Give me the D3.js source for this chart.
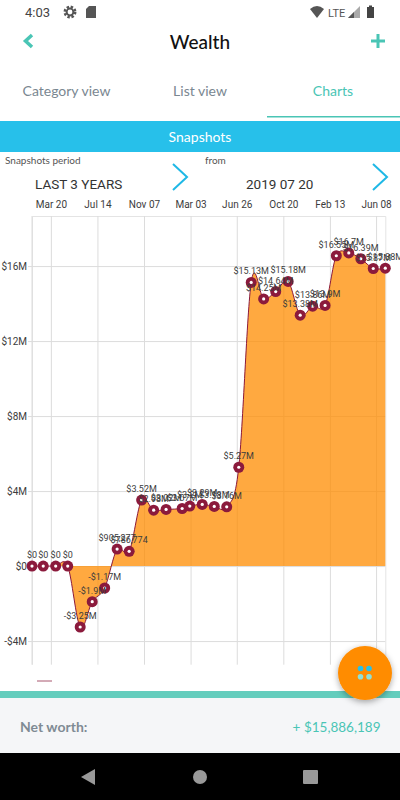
<!DOCTYPE html>
<html>
<head>
<meta charset="utf-8">
<script src="https://cdnjs.cloudflare.com/ajax/libs/d3/7.8.5/d3.min.js"></script>
<style>
  html, body { margin: 0; padding: 0; background: #fff; }
  svg { display: block; }
  text { font-family: Roboto, sans-serif; }
  .ui { font-family: Lato, sans-serif; }
</style>
</head>
<body>
<div id="chart"></div>
<script>
// snapshot dates, values in dollars and the labels printed above each point
const snapshotDates = ['2017-02-01','2017-03-01','2017-04-01','2017-05-01','2017-06-01','2017-07-01','2017-08-01','2017-09-01','2017-10-01','2017-11-01','2017-12-01','2018-01-01','2018-02-10','2018-03-01','2018-04-01','2018-05-01','2018-06-01','2018-07-01','2018-08-01','2018-09-01','2018-10-01','2018-11-01','2018-12-01','2019-01-01','2019-02-01','2019-03-01','2019-04-01','2019-05-01','2019-06-01','2019-07-01'];
const netWorth = [0,0,0,0,-3250000,-1900000,-1170000,905277,786774,3520000,2980000,3020000,3070000,3200000,3290000,3180000,3160000,5270000,15130000,14250000,14640000,15180000,13380000,13860000,13900000,16550000,16700000,16390000,15870000,15886189];
const valueLabels = ['$0','$0','$0','$0','-$3.25M','-$1.9M','-$1.17M','$905,277','$786,774','$3.52M','$2.98M','$3.02M','$3.07M','$3.2M','$3.29M','$3.18M','$3.16M','$5.27M','$15.13M','$14.25M','$14.64M','$15.18M','$13.38M','$13.86M','$13.9M','$16.55M','$16.7M','$16.39M','$15.87M','$15.88M'];
const yTicks = [-4000000,0,4000000,8000000,12000000,16000000];
const yTickLabels = ['-$4M','$0','$4M','$8M','$12M','$16M'];
const xTickDates = ['2017-03-20','2017-07-14','2017-11-07','2018-03-03','2018-06-26','2018-10-20','2019-02-13','2019-06-08'];
const xTickLabels = ['Mar 20','Jul 14','Nov 07','Mar 03','Jun 26','Oct 20','Feb 13','Jun 08'];

const parseDay = d3.utcParse('%Y-%m-%d');
const points = snapshotDates.map(function(d, i) {
  return {date: parseDay(d), value: netWorth[i], label: valueLabels[i]};
});

const svg = d3.select('#chart').append('svg').attr('width', 400).attr('height', 800);

const defs = svg.append('defs');
const blur = defs.append('filter').attr('id', 'fabShadow').attr('x', '-30%').attr('y', '-30%').attr('width', '160%').attr('height', '160%');
blur.append('feDropShadow').attr('dx', 0).attr('dy', 2).attr('stdDeviation', 3).attr('flood-color', '#000').attr('flood-opacity', 0.35);

drawHeader();
drawChart();
drawFooter();

function drawChart() {
  const x = d3.scaleUtc()
    .domain([parseDay(snapshotDates[0]), parseDay(snapshotDates[snapshotDates.length - 1])])
    .range([32, 385.3]);
  const y = d3.scaleLinear()
    .domain([-5260000, 18670000])
    .range([664.7, 216]);

  const g = svg.append('g');

  // grid, top and left edge lines are part of the axes
  const xAxis = d3.axisTop(x)
    .tickValues(xTickDates.map(parseDay))
    .tickSize(-(664.7 - 216))
    .tickPadding(8)
    .tickFormat(function(d, i) { return xTickLabels[i]; });
  const xGroup = g.append('g').attr('transform', 'translate(0,216)').call(xAxis);
  xGroup.select('.domain').attr('stroke', '#e4e4e4').attr('stroke-width', 1);
  xGroup.selectAll('.tick line').attr('stroke', '#dcdcdc');
  xGroup.selectAll('.tick text').attr('font-size', 10).attr('fill', '#3c3c3c').attr('font-family', 'Roboto, sans-serif');

  const yAxis = d3.axisLeft(y)
    .tickValues(yTicks)
    .tickSize(-(385.3 - 32))
    .tickPadding(5)
    .tickFormat(function(d, i) { return yTickLabels[i]; });
  const yGroup = g.append('g').attr('transform', 'translate(32,0)').call(yAxis);
  yGroup.select('.domain').attr('stroke', '#dcdcdc').attr('d', 'M0,216V664.7');
  yGroup.selectAll('.tick line').attr('stroke', '#dcdcdc').attr('x1', -4);
  yGroup.selectAll('.tick text').attr('font-size', 10).attr('fill', '#3c3c3c').attr('font-family', 'Roboto, sans-serif');

  const area = d3.area()
    .x(function(d) { return x(d.date); })
    .y0(y(0))
    .y1(function(d) { return y(d.value); })
    .curve(d3.curveCatmullRom.alpha(0));
  const line = d3.line()
    .x(function(d) { return x(d.date); })
    .y(function(d) { return y(d.value); })
    .curve(d3.curveCatmullRom.alpha(0));

  g.append('path').datum(points).attr('d', area).attr('fill', '#ff8c00').attr('fill-opacity', 0.75);
  g.append('path').datum(points).attr('d', line).attr('fill', 'none').attr('stroke', '#8b1a3c').attr('stroke-width', 1);

  g.selectAll('.dot').data(points).enter().append('circle')
    .attr('class', 'dot')
    .attr('cx', function(d) { return x(d.date); })
    .attr('cy', function(d) { return y(d.value); })
    .attr('r', 5.5)
    .attr('fill', '#8b1a3c');
  g.selectAll('.dot-hole').data(points).enter().append('circle')
    .attr('class', 'dot-hole')
    .attr('cx', function(d) { return x(d.date); })
    .attr('cy', function(d) { return y(d.value); })
    .attr('r', 1.6)
    .attr('fill', '#fff');

  g.selectAll('.value').data(points).enter().append('text')
    .attr('class', 'value')
    .attr('x', function(d) { return x(d.date); })
    .attr('y', function(d) { return y(d.value) - 8; })
    .attr('text-anchor', 'middle')
    .attr('font-size', 9)
    .attr('fill', '#3c3c3c')
    .text(function(d) { return d.label; });

  // legend dash under the chart
  g.append('line').attr('x1', 37).attr('x2', 52).attr('y1', 681).attr('y2', 681).attr('stroke', '#a8566f').attr('stroke-width', 1);
}

function drawHeader() {
  svg.append('text').attr('x', 25).attr('y', 17).attr('font-size', 13).attr('fill', '#444').text('4:03');
  // gear and sd card
  svg.append('circle').attr('cx', 70).attr('cy', 12).attr('r', 5.2).attr('fill', 'none').attr('stroke', '#555').attr('stroke-width', 2.5).attr('stroke-dasharray', '2.4 1.7');
  svg.append('circle').attr('cx', 70).attr('cy', 12).attr('r', 3.4).attr('fill', 'none').attr('stroke', '#555').attr('stroke-width', 2);
  svg.append('path').attr('d', 'M89,6H96V18H86V9Z').attr('fill', '#555');
  // wifi, signal, battery
  svg.append('path').attr('d', 'M310,9Q317,3 324,9L317,18Z').attr('fill', '#555');
  svg.append('text').attr('x', 328).attr('y', 16.500).attr('font-size', 11).attr('fill', '#555').text('LTE');
  svg.append('path').attr('d', 'M348,18H360V6Z').attr('fill', '#aaa');
  svg.append('path').attr('d', 'M348,18H354V12Z').attr('fill', '#555');
  svg.append('rect').attr('x', 367).attr('y', 7).attr('width', 7).attr('height', 11).attr('fill', '#444');
  svg.append('rect').attr('x', 369).attr('y', 5.500).attr('width', 3).attr('height', 2).attr('fill', '#444');

  svg.append('path').attr('d', 'M32,35L25.500,41L32,47').attr('fill', 'none').attr('stroke', '#4ac5b5').attr('stroke-width', 3.500);
  svg.append('path').attr('d', 'M378,34V48M371,41H385').attr('fill', 'none').attr('stroke', '#4ac5b5').attr('stroke-width', 3);
  svg.append('text').attr('class', 'ui').attr('x', 200).attr('y', 49).attr('text-anchor', 'middle').attr('font-size', 19).attr('font-weight', 500).attr('fill', '#111').text('Wealth');

  const tabs = svg.append('g').attr('class', 'ui').attr('font-size', 14).attr('text-anchor', 'middle');
  tabs.append('text').attr('class', 'ui').attr('x', 66.500).attr('y', 96).attr('fill', '#7a8791').text('Category view');
  tabs.append('text').attr('class', 'ui').attr('x', 200).attr('y', 96).attr('fill', '#7a8791').text('List view');
  tabs.append('text').attr('class', 'ui').attr('x', 333).attr('y', 96).attr('fill', '#4ac5b5').text('Charts');
  svg.append('rect').attr('x', 267).attr('y', 116).attr('width', 133).attr('height', 1.500).attr('fill', '#4ac5b5');

  svg.append('rect').attr('x', 0).attr('y', 121).attr('width', 400).attr('height', 31).attr('fill', '#27c0ea');
  svg.append('text').attr('class', 'ui').attr('x', 200).attr('y', 142).attr('text-anchor', 'middle').attr('font-size', 14).attr('fill', '#fff').text('Snapshots');

  svg.append('text').attr('class', 'ui').attr('x', 5).attr('y', 164).attr('font-size', 10).attr('fill', '#555').text('Snapshots period');
  svg.append('text').attr('class', 'ui').attr('x', 205).attr('y', 164).attr('font-size', 10).attr('fill', '#555').text('from');
  svg.append('text').attr('x', 35).attr('y', 189).attr('font-size', 13.500).attr('fill', '#333').text('LAST 3 YEARS');
  svg.append('text').attr('x', 246).attr('y', 189).attr('font-size', 13.500).attr('fill', '#333').text('2019 07 20');
  svg.append('path').attr('d', 'M173,164L187,177L173,190').attr('fill', 'none').attr('stroke', '#1fb8e6').attr('stroke-width', 2);
  svg.append('path').attr('d', 'M373,164L387,177L373,190').attr('fill', 'none').attr('stroke', '#1fb8e6').attr('stroke-width', 2);
}

function drawFooter() {
  svg.append('rect').attr('x', 0).attr('y', 691).attr('width', 400).attr('height', 7).attr('fill', '#64cdbd');
  svg.append('rect').attr('x', 0).attr('y', 698).attr('width', 400).attr('height', 55).attr('fill', '#f5f6f8');
  svg.append('text').attr('class', 'ui').attr('x', 20).attr('y', 732).attr('font-size', 14).attr('font-weight', 700).attr('fill', '#7f8b94').text('Net worth:');
  svg.append('text').attr('class', 'ui').attr('x', 380.500).attr('y', 732).attr('text-anchor', 'end').attr('font-size', 13.500).attr('fill', '#4ac5b5').text('+ $15,886,189');
  svg.append('rect').attr('x', 0).attr('y', 753).attr('width', 400).attr('height', 47).attr('fill', '#000');
  svg.append('path').attr('d', 'M95,769V785L81,777Z').attr('fill', '#999');
  svg.append('circle').attr('cx', 200).attr('cy', 777).attr('r', 7).attr('fill', '#999');
  svg.append('rect').attr('x', 303).attr('y', 770).attr('width', 15).attr('height', 14).attr('rx', 1).attr('fill', '#999');

  svg.append('circle').attr('cx', 365).attr('cy', 673).attr('r', 27).attr('fill', '#ff8c00').attr('filter', 'url(#fabShadow)');
  svg.append('circle').attr('cx', 360.500).attr('cy', 668.500).attr('r', 2.800).attr('fill', '#27c0ea');
  svg.append('circle').attr('cx', 369).attr('cy', 668.500).attr('r', 2.800).attr('fill', '#27c0ea');
  svg.append('circle').attr('cx', 360.500).attr('cy', 676.700).attr('r', 2.800).attr('fill', '#8fe0d6');
  svg.append('circle').attr('cx', 369).attr('cy', 676.700).attr('r', 2.800).attr('fill', '#8fe0d6');
}
</script>
</body>
</html>
